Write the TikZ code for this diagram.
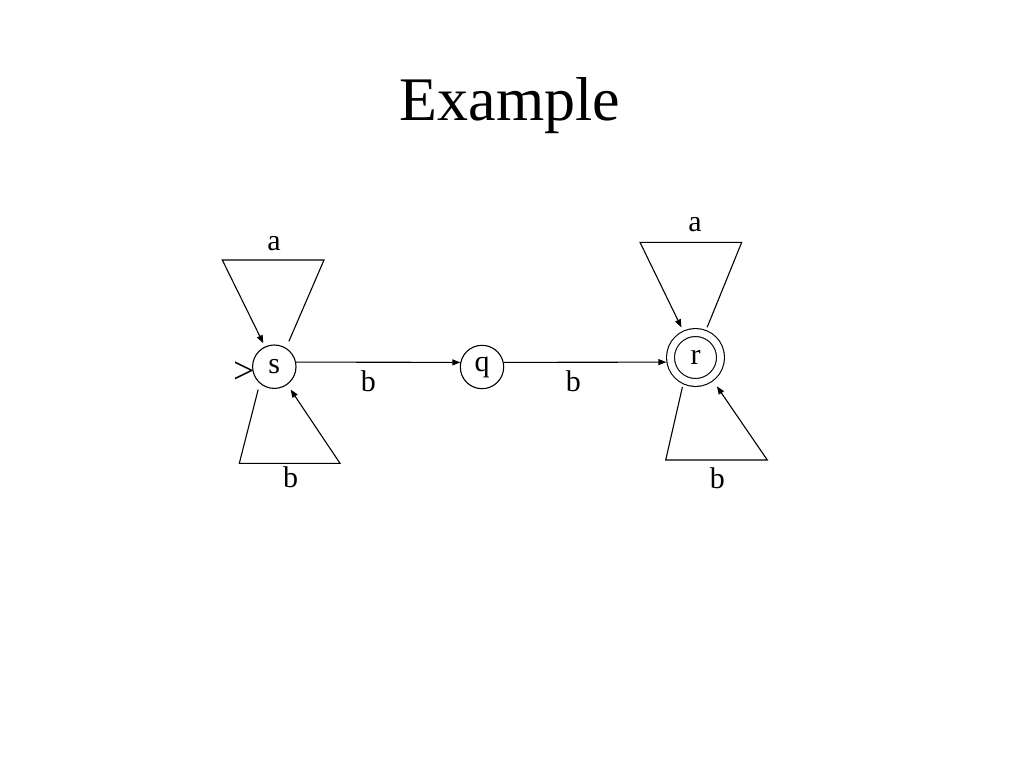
\documentclass[tikz,border=0pt]{standalone}
\usepackage{fontspec}
\setmainfont{Liberation Serif}
\usetikzlibrary{arrows.meta}
\tikzset{
  state/.style={draw, circle, line width=1.1pt, minimum size=43.4pt, inner sep=0pt, outer sep=0.5pt,
    font=\fontsize{30}{36}\selectfont},
  finalstate/.style={state, double, double distance=6.8pt, minimum size=50pt, outer sep=4.5pt},
  trans/.style={line width=1.1pt, -{Triangle[length=8pt,width=6pt]}},
  lbl/.style={inner sep=0pt, font=\fontsize{30}{36}\selectfont},
}
\begin{document}
\begin{tikzpicture}[x=1pt,y=-1pt]
                \useasboundingbox (0,0) rectangle (1024,768);
                
                % Title
                \node (title) at (510,120) [anchor=base, font=\fontsize{62}{74}\selectfont] {Example};%
                
                % Marking states s, q, r
                \node (s) at (274.3,366.7) [state] {s};%
                \node (q) at (482.0,367.0) [state] {q};%
                \node (r) at (695.5,357.5) [finalstate] {r};%
                
                % Marking start of s
                \node (init) at (244.0,373.0) [lbl, font=\fontsize{38}{44}\selectfont] {>};%
                
                % Drawing segment s q
                \draw [trans] (s.12) -- (q.168);%
                
                % Drawing segment q r
                \draw [trans] (q.12) -- (r.189);%
                
                % Drawing loop a at s
                \draw [trans, shorten <=7.1pt, shorten >=3.7pt] (s.58) -- (324.0,260.0) -- (222.3,260.0) -- (s.115);%
                
                % Drawing loop b at s
                \draw [trans, shorten <=6.3pt, shorten >=5.9pt] (s.229) -- (239.3,463.3) -- (340.0,463.3) -- (s.306);%
                
                % Drawing loop a at r
                \draw [trans, shorten <=2.9pt, shorten >=3.7pt] (r.69) -- (741.7,242.3) -- (640.0,242.3) -- (r.115);%
                
                % Drawing loop b at r
                \draw [trans, shorten <=2.8pt, shorten >=6.4pt] (r.245) -- (665.7,460.0) -- (767.3,460.0) -- (r.307);%
                
                % Marking labels
                \node (las) at (274.0,243.5) [lbl] {a};%
                \node (lbs) at (290.5,477.0) [lbl] {b};%
                \node (lsq) at (368.3,381.7) [lbl] {b};%
                \node (lqr) at (573.3,381.7) [lbl] {b};%
                \node (lar) at (695.0,225.0) [lbl] {a};%
                \node (lbr) at (717.3,478.3) [lbl] {b};%
\end{tikzpicture}
\end{document}
